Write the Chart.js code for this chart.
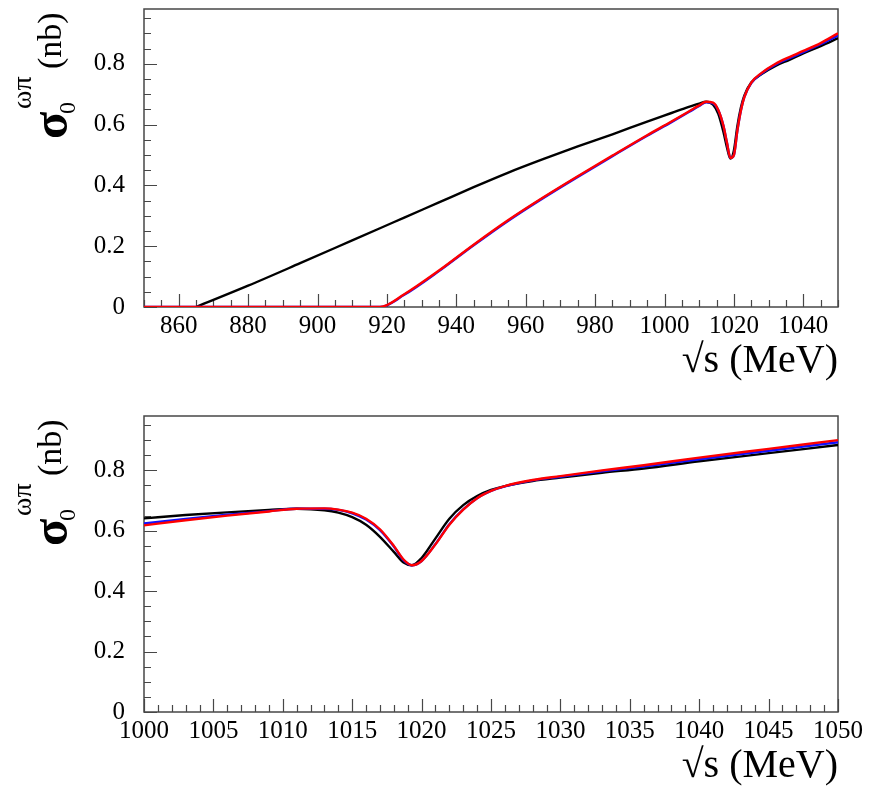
<!DOCTYPE html>
<html>
<head>
<meta charset="utf-8">
<script src="https://cdn.jsdelivr.net/npm/chart.js@4/dist/chart.umd.min.js"></script>
<style>
  body { margin: 0; background: #fff; }
  canvas { position: absolute; left: 0; }
  #top { top: 0; }
  #bottom { top: 400px; }
</style>
</head>
<body>
<canvas id="top" width="880" height="400"></canvas>
<canvas id="bottom" width="880" height="388"></canvas>
<script>
// painel de cima: 850 - 1050 MeV
const topEnergy = [850, 865, 880, 895, 910, 918, 925, 935, 945, 955, 965, 975, 985, 995, 1002, 1007, 1010, 1012, 1014, 1015.5, 1017, 1018, 1019, 1020, 1021, 1022, 1023, 1025, 1028, 1032, 1036, 1040, 1045, 1050];
const topBlack  = [null, 0, 0.070, 0.144, 0.219, 0.259, 0.294, 0.344, 0.394, 0.442, 0.486, 0.528, 0.568, 0.610, 0.638, 0.658, 0.669, 0.675, 0.665, 0.635, 0.575, 0.525, 0.488, 0.515, 0.595, 0.655, 0.695, 0.738, 0.766, 0.793, 0.813, 0.834, 0.858, 0.884];
const topBlue   = [0, 0, 0, 0, 0, 0, 0.040, 0.118, 0.203, 0.284, 0.358, 0.428, 0.496, 0.563, 0.608, 0.641, 0.661, 0.673, 0.670, 0.647, 0.595, 0.540, 0.490, 0.500, 0.580, 0.645, 0.690, 0.736, 0.768, 0.797, 0.818, 0.838, 0.864, 0.893];
const topRed    = [0, 0, 0, 0, 0, 0, 0.042, 0.120, 0.205, 0.286, 0.360, 0.430, 0.498, 0.565, 0.610, 0.643, 0.663, 0.675, 0.672, 0.648, 0.595, 0.540, 0.490, 0.500, 0.580, 0.645, 0.690, 0.738, 0.770, 0.800, 0.822, 0.842, 0.868, 0.900];

// painel de baixo: zoom 1000 - 1050 MeV
const bottomEnergy = [1000, 1003, 1006, 1009, 1011, 1013, 1014, 1015, 1016, 1017, 1018, 1018.7, 1019.3, 1020, 1021, 1022, 1023, 1024, 1025, 1026, 1028, 1030, 1033, 1036, 1040, 1045, 1050];
const bottomBlack  = [0.641, 0.652, 0.661, 0.669, 0.673, 0.668, 0.660, 0.645, 0.620, 0.580, 0.530, 0.495, 0.486, 0.510, 0.575, 0.640, 0.685, 0.715, 0.735, 0.748, 0.765, 0.776, 0.792, 0.806, 0.830, 0.857, 0.884];
const bottomBlue   = [0.624, 0.639, 0.653, 0.665, 0.673, 0.673, 0.669, 0.658, 0.637, 0.602, 0.548, 0.503, 0.486, 0.500, 0.556, 0.622, 0.671, 0.708, 0.732, 0.747, 0.767, 0.779, 0.797, 0.813, 0.837, 0.865, 0.893];
const bottomRed    = [0.618, 0.635, 0.650, 0.664, 0.673, 0.674, 0.670, 0.660, 0.640, 0.605, 0.550, 0.505, 0.486, 0.500, 0.555, 0.620, 0.670, 0.708, 0.732, 0.748, 0.768, 0.781, 0.800, 0.817, 0.842, 0.871, 0.900];

const topXTicks = [860, 880, 900, 920, 940, 960, 980, 1000, 1020, 1040];
const bottomXTicks = [1000, 1005, 1010, 1015, 1020, 1025, 1030, 1035, 1040, 1045, 1050];
const yTicks = [0, 0.2, 0.4, 0.6, 0.8];
const yTickLabels = ['0', '0.2', '0.4', '0.6', '0.8'];

const SERIF = '"Liberation Serif", "DejaVu Serif", serif';
Chart.defaults.font.family = SERIF;

function pontos(xs, ys) {
  return xs.map((x, i) => ({ x: x, y: ys[i] }));
}

// moldura e marcas de escala estilo ROOT (para dentro)
const molduraRoot = {
  id: 'molduraRoot',
  beforeDatasetsDraw(chart, args, opts) {
    const { ctx, chartArea: a, scales: { x, y } } = chart;
    ctx.save();
    ctx.strokeStyle = '#474747';
    ctx.lineWidth = 1.2;
    ctx.beginPath();
    for (let i = 0; x.min + i * opts.xMinor <= x.max + 1e-9; i++) {
      const v = x.min + i * opts.xMinor;
      const major = Math.abs(v / opts.xMajor - Math.round(v / opts.xMajor)) < 1e-6;
      const px = Math.round(x.getPixelForValue(v)) + 0.5;
      ctx.moveTo(px, a.bottom);
      ctx.lineTo(px, a.bottom - (major ? opts.majorLen : opts.minorLen));
    }
    for (let i = 0; i * 0.05 <= y.max + 1e-9; i++) {
      const v = i * 0.05;
      const major = i % 4 === 0;
      const py = Math.round(y.getPixelForValue(v)) + 0.5;
      ctx.moveTo(a.left, py);
      ctx.lineTo(a.left + (major ? opts.majorLen : opts.minorLen), py);
    }
    ctx.stroke();
    ctx.lineWidth = 1.5;
    ctx.strokeRect(a.left, a.top, a.right - a.left, a.bottom - a.top);
    ctx.restore();
  },
  afterDraw(chart, args, opts) {
    const { ctx, chartArea: a } = chart;
    ctx.save();
    ctx.fillStyle = '#000';
    // titulo do eixo X
    ctx.font = '40px ' + SERIF;
    ctx.textAlign = 'right';
    ctx.textBaseline = 'alphabetic';
    ctx.fillText('\u221As (MeV)', a.right, a.bottom + 65);
    // titulo do eixo Y (rotacionado)
    const t = a.top;
    const escrever = (txt, font, startY, baseX) => {
      ctx.save();
      ctx.translate(baseX, startY);
      ctx.rotate(-Math.PI / 2);
      ctx.font = font;
      ctx.textAlign = 'left';
      ctx.fillText(txt, 0, 0);
      ctx.restore();
    };
    escrever('\u03C3', 'bold 50px ' + SERIF, t + 130, 67);
    escrever('0', '24px ' + SERIF, t + 105, 75);
    escrever('\u03C9\u03C0', '28px ' + SERIF, t + 100, 31);
    escrever('(nb)', '34px ' + SERIF, t + 60, 61);
    ctx.restore();
  }
};

function criarGrafico(id, xs, black, blue, red, xMin, xMax, xTicks, xMinor, xMajor, padTop, xHeight) {
  const ctx = document.getElementById(id).getContext('2d');
  const linha = (dados, cor) => ({
    data: pontos(xs, dados),
    borderColor: cor,
    borderWidth: 2.4,
    pointRadius: 0,
    fill: false,
    cubicInterpolationMode: 'monotone',
    clip: 0
  });
  return new Chart(ctx, {
    type: 'line',
    data: {
      // o primeiro dataset fica por cima
      datasets: [linha(red, '#ff0000'), linha(blue, '#1010ff'), linha(black, '#000000')]
    },
    options: {
      responsive: false,
      animation: false,
      layout: { padding: { top: padTop, right: 42, left: 0, bottom: 0 } },
      scales: {
        x: {
          type: 'linear',
          min: xMin,
          max: xMax,
          afterBuildTicks: s => { s.ticks = xTicks.map(v => ({ value: v })); },
          afterFit: s => { s.height = xHeight; s.paddingLeft = 0; s.paddingRight = 0; },
          grid: { display: false, drawTicks: false },
          border: { display: false },
          ticks: {
            autoSkip: false,
            maxRotation: 0,
            padding: 4,
            color: '#000',
            font: { family: SERIF, size: 25 },
            callback: v => String(v)
          }
        },
        y: {
          min: 0,
          max: 0.98,
          afterBuildTicks: s => { s.ticks = yTicks.map(v => ({ value: v })); },
          afterFit: s => { s.width = 144; s.paddingTop = 0; s.paddingBottom = 0; },
          grid: { display: false, drawTicks: false },
          border: { display: false },
          ticks: {
            padding: 19,
            color: '#000',
            font: { family: SERIF, size: 25 },
            callback: v => yTickLabels[yTicks.indexOf(v)]
          }
        }
      },
      plugins: {
        legend: { display: false },
        tooltip: { enabled: false },
        molduraRoot: { xMinor: xMinor, xMajor: xMajor, majorLen: 13, minorLen: 7 }
      }
    },
    plugins: [molduraRoot]
  });
}

criarGrafico('top', topEnergy, topBlack, topBlue, topRed, 850, 1050, topXTicks, 5, 20, 9, 93);
criarGrafico('bottom', bottomEnergy, bottomBlack, bottomBlue, bottomRed, 1000, 1050, bottomXTicks, 1, 5, 16, 76);
</script>
</body>
</html>
